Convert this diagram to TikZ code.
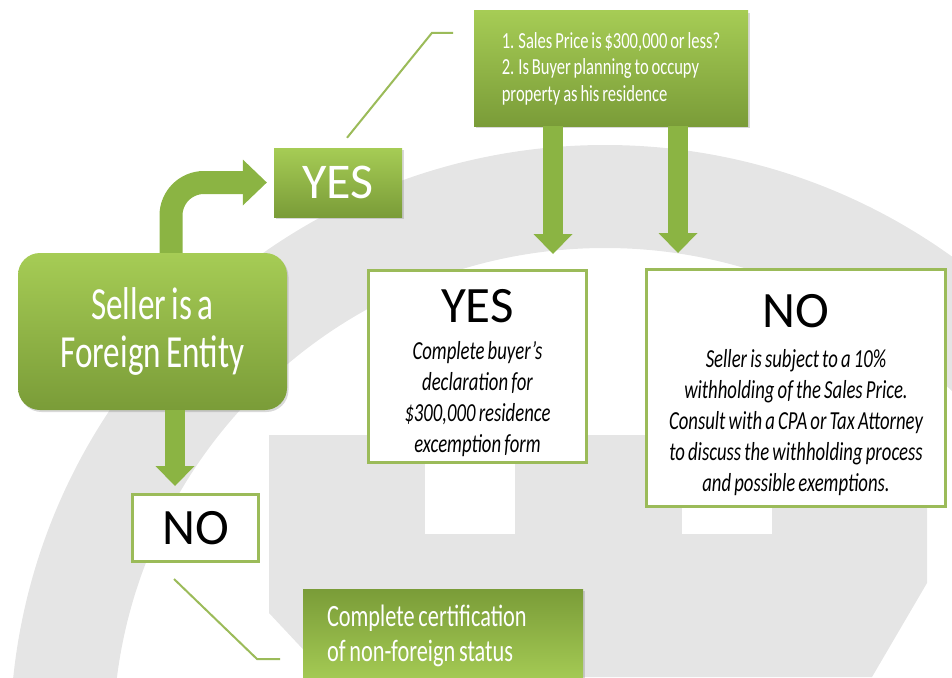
\documentclass[tikz,border=0pt]{standalone}
\usepackage{fontspec}
\setmainfont{Carlito}
\newfontfamily\condfont[FakeStretch=0.72,WordSpace=0.75]{Carlito}
\usetikzlibrary{arrows.meta,shadows,positioning}
\definecolor{olive}{HTML}{9BBB59}
\definecolor{leafhi}{HTML}{A6CC55}
\definecolor{leaflo}{HTML}{7A9C38}
\definecolor{arrowgreen}{HTML}{8BB443}
\definecolor{watermark}{HTML}{E5E5E5}

\begin{document}
\begin{tikzpicture}[x=1pt,y=-1pt,
  greenbox/.style={rectangle, text=white, top color=leafhi, bottom color=leaflo,
    drop shadow={shadow xshift=1.5pt, shadow yshift=-2pt, opacity=.3}},
  whitebox/.style={rectangle, draw=olive, line width=3pt, fill=white,
    drop shadow={shadow xshift=1pt, shadow yshift=-1.5pt, opacity=.15}},
  head/.style={font=\fontsize{51}{51}\selectfont, inner sep=0pt},
  bodytext/.style={font=\condfont\itshape\fontsize{26}{31}\selectfont, align=center, inner sep=0pt},
  fatarrow/.style={arrowgreen, line width=20pt, -{Triangle[width=39pt,length=20pt,line width=0pt]}},
  callout/.style={olive, line width=2pt}]
\useasboundingbox (0,0) rectangle (952,677);

% watermark
\begin{scope}
\clip (0,0) rectangle (952,677);
\fill[watermark, even odd rule] (605,740) circle[radius=595pt] (605,740) circle[radius=492pt];
\fill[watermark] (269,435) -- (927,435) -- (927,583) -- (872,677) -- (329,677) -- (269,613) -- cycle;
\fill[white] (425,435) rectangle (515,534);
\fill[white] (682,435) rectangle (772,534);
\end{scope}

% boxes
\node[greenbox, rounded corners=22pt, minimum width=269pt, minimum height=157pt, align=center,
  font=\condfont\fontsize{46}{48}\selectfont] (foreign) at (152.5,331.5) {Seller is a\\Foreign Entity};
\node[greenbox, minimum width=128pt, minimum height=69pt, font=\fontsize{50}{50}\selectfont] (yesg) at (338,182.5) {YES};
\node[whitebox, minimum width=126pt, minimum height=67pt, font=\fontsize{51}{51}\selectfont] (nol) at (195.5,528) {NO};
\node[greenbox, minimum width=274pt, minimum height=115pt, align=left,
  font=\condfont\fontsize{23}{26.5}\selectfont] (query) at (611,68.5)
  {1. Sales Price is \$300,000 or less?\\2. Is Buyer planning to occupy\\property as his residence};
\node[greenbox, top color=leaflo, bottom color=leafhi, minimum width=280pt, minimum height=94pt,
  text width=232pt, align=flush left, font=\condfont\fontsize{31}{35}\selectfont] (cert) at (443,636)
  {Complete certification\\of non-foreign status};

\node[whitebox, minimum width=218pt, minimum height=192pt] (yesw) at (477.5,366.5) {};
\node[head, anchor=base] (yesh) at (477.5,322) {YES};
\node[bodytext, anchor=base] (yest) at (477.5,452)
  {Complete buyer’s\\declaration for\\\$300,000 residence\\excemption form};

\node[whitebox, minimum width=299pt, minimum height=237pt] (now) at (796,388) {};
\node[head, anchor=base] (noh) at (796,327) {NO};
\node[bodytext, anchor=base] (not) at (796,491)
  {Seller is subject to a 10\%\\withholding of the Sales Price.\\Consult with a CPA or Tax Attorney\\to discuss the withholding process\\and possible exemptions.};

% arrows
\coordinate (dn) at ([xshift=22.5pt]foreign.south);
\coordinate (qa) at ([xshift=-58pt]query.south);
\coordinate (qb) at ([xshift=67pt]query.south);
\draw[fatarrow, line width=23pt, -{Triangle[width=46pt,length=24pt,line width=0pt]}, rounded corners=33pt]
  ([xshift=18.5pt]foreign.north) |- ([xshift=-7pt]yesg.west);
\draw[fatarrow, shorten >=7pt] (dn) -- (dn |- nol.north);
\draw[fatarrow, shorten >=15pt] (qa) -- (qa |- yesw.north);
\draw[fatarrow, shorten >=15pt] (qb) -- (qb |- now.north);

% callouts
\draw[callout] ([shift={(9,-10)}]yesg.north) -- ++(85,-105) -- ++(21,0);
\draw[callout] ([shift={(-21.5,16)}]nol.south) -- ++(83,80) -- ++(23,0);
\end{tikzpicture}
\end{document}
